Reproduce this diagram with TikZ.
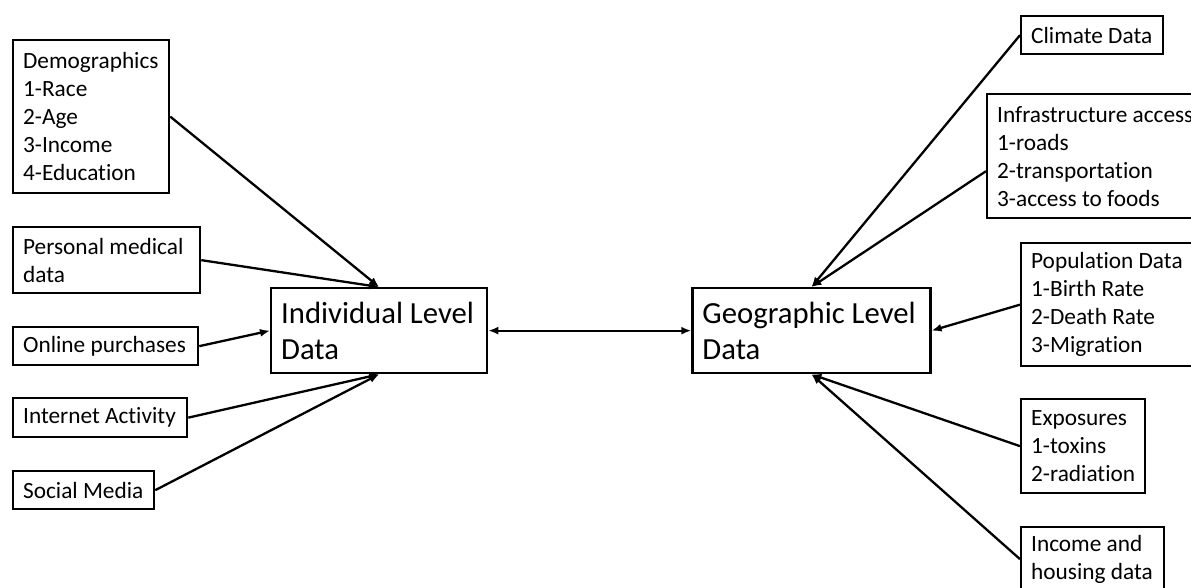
\documentclass[tikz,border=0pt]{standalone}
\usepackage{fontspec}
\setmainfont{Carlito}[Ligatures=NoCommon]
\usetikzlibrary{arrows.meta,positioning}

\begin{document}
\begin{tikzpicture}[x=1pt,y=-1pt,
    box/.style={rectangle, draw, line width=2.3pt, inner xsep=10pt, inner ysep=0pt, align=flush left, anchor=north west, font=\fontsize{23.3}{28}\selectfont},
    big/.style={box, font=\fontsize{30.7}{36}\selectfont},
    arr/.style={-{Latex[length=10pt,width=8pt]}, line width=2.3pt}]
    \clip (0,0) rectangle (1191,588);
    \fill[white] (0,0) rectangle (1191,588);
    \node(indiv) [big, text width=196pt, minimum height=85pt] at (270,287) {Individual Level\\Data};
    \node(geo) [big, text width=218pt, minimum height=85pt, right=203pt of indiv] {Geographic Level\\Data};
    \draw[{Latex[length=10pt,width=8pt]}-{Latex[length=10pt,width=8pt]}, line width=2.3pt] (indiv) -- (geo);
    % individual level sources
    \node(demo) [box, text width=136pt, minimum height=153pt] at (12,39) {Demographics\\1-Race\\2-Age\\3-Income\\4-Education};
    \node(medical) [box, text width=167pt, minimum height=66pt] at (12,226) {Personal medical\\data};
    \node(online) [box, text width=165pt, minimum height=38pt] at (12,326) {Online purchases};
    \node(internet) [box, text width=154pt, minimum height=39pt] at (12,397) {Internet Activity};
    \node(social) [box, text width=121pt, minimum height=38pt] at (12,470) {Social Media};
    \draw[arr] (demo.east) -- (indiv.north);
    \draw[arr] (medical.east) -- (indiv.north);
    \draw[arr] (online.east) -- (indiv.west);
    \draw[arr] (internet.east) -- (indiv.south);
    \draw[arr] (social.east) -- (indiv.south);
    % geographic level sources
    \node(climate) [box, text width=122pt, minimum height=38pt] at (1020,15) {Climate Data};
    \node(infra) [box, text width=205pt, minimum height=124pt] at (986,93) {Infrastructure access\\1-roads\\2-transportation\\3-access to foods};
    \node(popul) [box, text width=160pt, minimum height=123pt] at (1020,242) {Population Data\\1-Birth Rate\\2-Death Rate\\3-Migration};
    \node(expo) [box, text width=104pt, minimum height=94pt] at (1020,398) {Exposures\\1-toxins\\2-radiation};
    \node(income) [box, text width=123pt, minimum height=64pt] at (1020,526) {Income and\\housing data};
    \draw[arr] (climate.west) -- (geo.north);
    \draw[arr] ([yshift=-15pt]infra.west) -- (geo.north);
    \draw[arr] (popul.west) -- (geo.east);
    \draw[arr] (expo.west) -- (geo.south);
    \draw[arr] (income.west) -- (geo.south);
\end{tikzpicture}
\end{document}
